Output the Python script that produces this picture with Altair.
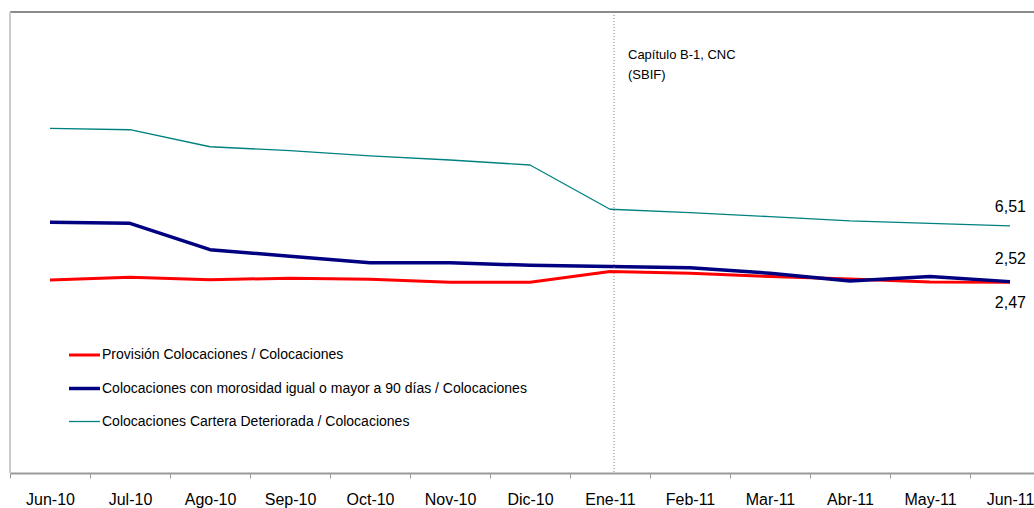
import altair as alt
import pandas as pd

# Month categories along the x axis
months = ["Jun-10", "Jul-10", "Ago-10", "Sep-10", "Oct-10", "Nov-10", "Dic-10",
          "Ene-11", "Feb-11", "Mar-11", "Abr-11", "May-11", "Jun-11"]

# Series names (legend order)
series = [
    "Provisión Colocaciones / Colocaciones",
    "Colocaciones con morosidad igual o mayor a 90 días / Colocaciones",
    "Colocaciones Cartera Deteriorada / Colocaciones",
]

# Ratios (%) per month
provision = [2.64, 2.83, 2.66, 2.76, 2.69, 2.47, 2.47, 3.25, 3.12, 2.88, 2.71, 2.50, 2.47]
morosidad = [6.78, 6.70, 4.81, 4.34, 3.88, 3.88, 3.69, 3.61, 3.52, 3.12, 2.57, 2.88, 2.52]
deteriorada = [13.51, 13.41, 12.19, 11.91, 11.53, 11.24, 10.88, 7.71, 7.46, 7.18, 6.87, 6.70, 6.51]

colors = ["#FF0000", "#000080", "#008080"]
widths = [3, 3.5, 1.3]

rows = []
for name, vals in zip(series, [provision, morosidad, deteriorada]):
    for m, v in zip(months, vals):
        rows.append({"mes": m, "serie": name, "valor": v})
df = pd.DataFrame(rows)

W, H = 1024, 461
FONT = "Liberation Sans"

x_scale = alt.Scale(type="band", domain=months, range=[0, 1040],
                    paddingInner=0, paddingOuter=0)
y_scale = alt.Scale(domain=[-11.2, 21.85], nice=False, zero=False)

x_axis = alt.Axis(title=None, labelAngle=0, tickBand="extent", domainColor="#9a9a9a",
                  domainWidth=2, tickColor="#9a9a9a", tickWidth=1, tickSize=5,
                  labelFont=FONT, labelFontSize=16, labelColor="black",
                  labelPadding=13, grid=False)


def xenc(pos=0.5):
    return alt.X("mes:N", sort=months, scale=x_scale, bandPosition=pos, axis=x_axis)


lines = alt.Chart(df).mark_line(strokeJoin="round").encode(
    x=xenc(0.5),
    y=alt.Y("valor:Q", scale=y_scale, axis=None),
    color=alt.Color("serie:O", scale=alt.Scale(type="ordinal", domain=series, range=colors),
                    sort=series, title=None),
    strokeWidth=alt.StrokeWidth("serie:O",
                                scale=alt.Scale(type="ordinal", domain=series, range=widths),
                                sort=series, title=None),
)

last = alt.Chart(df).transform_filter(alt.datum.mes == "Jun-11").transform_calculate(
    etiqueta="replace(format(datum.valor, '.2f'), '.', ',')"
)


def end_label(name, dy):
    return last.transform_filter(alt.datum.serie == name).mark_text(
        align="right", baseline="middle", dx=16, dy=dy, font=FONT, fontSize=16,
        color="black"
    ).encode(x=xenc(0.5), y=alt.Y("valor:Q", scale=y_scale, axis=None), text="etiqueta:N")


marker = pd.DataFrame({"mes": ["Ene-11"], "nota": ["Capítulo B-1, CNC\n(SBIF)"]})

vline = alt.Chart(marker).mark_rule(color="#808080", strokeWidth=1, strokeDash=[1, 2]).encode(
    x=xenc(0.55), y=alt.value(0), y2=alt.value(H)
)

note = alt.Chart(marker).mark_text(
    align="left", baseline="middle", dx=14, font=FONT, fontSize=13, color="black",
    lineBreak="\n", lineHeight=20
).encode(x=xenc(0.55), y=alt.value(43), text="nota:N")

frame_top = alt.Chart(marker).mark_rule(color="#8c8c8c", strokeWidth=2).encode(
    x=alt.value(0), x2=alt.value(1040), y=alt.value(0)
)
frame_left = alt.Chart(marker).mark_rule(color="#cccccc", strokeWidth=2).encode(
    x=alt.value(0), y=alt.value(0), y2=alt.value(H)
)

chart = alt.layer(
    lines, frame_top, frame_left, vline,
    end_label(series[2], -19), end_label(series[1], -23), end_label(series[0], 21),
    note,
).properties(
    width=W, height=H,
    padding={"left": 10, "top": 12, "right": 0, "bottom": 35},
    autosize=alt.AutoSizeParams(type="none"),
    background="white",
).configure_view(stroke=None).configure_legend(
    orient="none", legendX=57, legendY=326, symbolType="stroke", symbolSize=961,
    labelFont=FONT, labelFontSize=14, labelColor="black", labelOffset=0,
    labelLimit=0, rowPadding=9, padding=0,
)

chart.save("out.html", embed_options={"renderer": "svg", "actions": False})
